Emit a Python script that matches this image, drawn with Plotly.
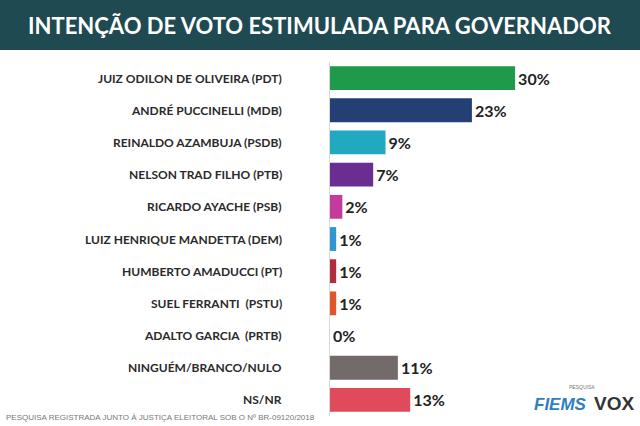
import plotly.graph_objects as go

labels = ["JUIZ ODILON DE OLIVEIRA (PDT)", "ANDRÉ PUCCINELLI (MDB)", "REINALDO AZAMBUJA (PSDB)",
          "NELSON TRAD FILHO (PTB)", "RICARDO AYACHE (PSB)", "LUIZ HENRIQUE MANDETTA (DEM)",
          "HUMBERTO AMADUCCI (PT)", "SUEL FERRANTI  (PSTU)", "ADALTO GARCIA  (PRTB)",
          "NINGUÉM/BRANCO/NULO", "NS/NR"]
values = [30, 23, 9, 7, 2, 1, 1, 1, 0, 11, 13]
colors = ["#1f9a4a", "#233f73", "#21a9c0", "#6a2d91", "#c33b9c", "#2f95d3",
          "#b32c3b", "#e0552b", "#888888", "#746a6a", "#e04a5a"]

W, H = 640, 426
L, R, T, B = 330, 20, 62, 10
pw = W - L - R
ph = H - T - B

fig = go.Figure(go.Bar(
    x=values, y=labels, orientation="h", marker=dict(color=colors, line_width=0),
    text=[f"<b>{v}%</b>" for v in values], textposition="outside", cliponaxis=False,
    textfont=dict(family="Lato", size=16, color="#222"), width=0.74))

fig.update_layout(
    width=W, height=H, margin=dict(l=L, r=R, t=T, b=B),
    paper_bgcolor="white", plot_bgcolor="white", showlegend=False,
    xaxis=dict(range=[0, 47], visible=False),
    yaxis=dict(autorange="reversed", showticklabels=False, showgrid=False,
               showline=True, linecolor="#d8d8d8", linewidth=1),
    shapes=[dict(type="rect", xref="paper", yref="paper", x0=-L/pw, x1=1+R/pw,
                 y0=1+12/ph, y1=1+T/ph, fillcolor="#1f4a52", line_width=0, layer="below")],
)
ann = []
for lab in labels:
    ann.append(dict(x=-(L-284)/pw, xref="paper", y=lab, yref="y", text=f"<b>{lab}</b>",
                    showarrow=False, xanchor="right", font=dict(family="Lato", size=12, color="#2a2a2a")))
ann.append(dict(x=(W/2 - L)/pw, xref="paper", y=1, yref="paper", xanchor="center", yanchor="middle",
                text="<b>INTENÇÃO DE VOTO ESTIMULADA PARA GOVERNADOR</b>",
                showarrow=False, font=dict(family="Lato", size=22, color="white"), yshift=37))
ann.append(dict(x=-(L-4)/pw, xref="paper", y=0, yref="paper", yshift=-8, xanchor="left", yanchor="bottom",
                text="PESQUISA REGISTRADA JUNTO À JUSTIÇA ELEITORAL SOB O Nº BR-09120/2018",
                showarrow=False, font=dict(family="Liberation Sans Narrow, Liberation Sans", size=8, color="#777")))
ann.append(dict(x=(560-L)/pw, xref="paper", y=0, yref="paper", yshift=0, xanchor="center", yanchor="bottom",
                text="<i><b>FIEMS</b></i>", showarrow=False, font=dict(family="Liberation Sans", size=17, color="#2f7fc0")))
ann.append(dict(x=(582-L)/pw, xref="paper", y=0, yref="paper", yshift=24, xanchor="center", yanchor="bottom",
                text="PESQUISA", showarrow=False, font=dict(family="Liberation Sans", size=5, color="#777")))
ann.append(dict(x=(614-L)/pw, xref="paper", y=0, yref="paper", yshift=0, xanchor="center", yanchor="bottom",
                text="<b>VOX</b>", showarrow=False, font=dict(family="Liberation Sans", size=19, color="#333")))
fig.update_layout(annotations=ann)
fig.write_html("out.html", config={"displayModeBar": False})
with open("out.html", encoding="utf-8") as f:
    s = f.read()
s = s.replace("<head>", "<head><style>body{margin:0;overflow:hidden}</style>", 1)
with open("out.html", "w", encoding="utf-8") as f:
    f.write(s)
